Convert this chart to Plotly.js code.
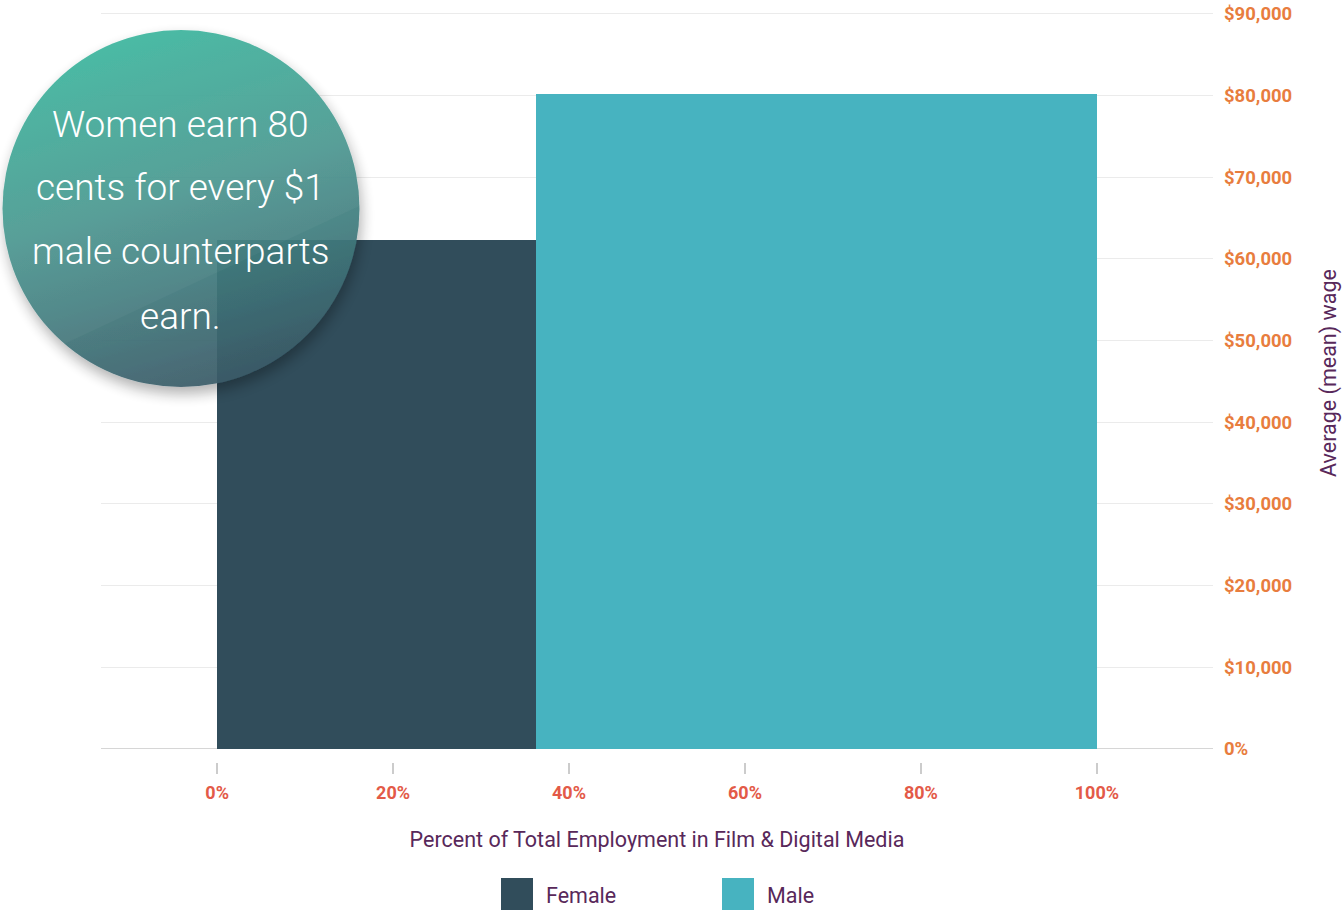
<!DOCTYPE html>
<html>
<head>
<meta charset="utf-8">
<script src="https://cdn.plot.ly/plotly-3.0.1.min.js"></script>
<style>
html,body{margin:0;padding:0;background:#fff;}
#chart{width:1343px;height:910px;}
</style>
</head>
<body>
<div id="chart"></div>
<script>
// ---- data ----
const seriesNames = ['Female', 'Male'];
const employmentShare = [36.3, 63.7];      // percent of total employment
const meanWage = [62300, 80200];          // average (mean) wage, USD
const seriesColors = ['#314d5b', '#47b3c0'];
const xTickVals = [0, 20, 40, 60, 80, 100];
const xTickText = ['0%', '20%', '40%', '60%', '80%', '100%'];
const yTickVals = [0, 10000, 20000, 30000, 40000, 50000, 60000, 70000, 80000, 90000];
const yTickText = ['0%', '$10,000', '$20,000', '$30,000', '$40,000', '$50,000', '$60,000', '$70,000', '$80,000', '$90,000'];
const calloutLines = ['Women earn 80', 'cents for every $1', 'male counterparts', 'earn.'];
const xTitle = 'Percent of Total Employment in Film & Digital Media';
const yTitle = 'Average (mean) wage';

// ---- layout helpers (pixel -> paper) ----
const L = 101, R = 1213, T = 12, B = 775;
const px = x => (x - L) / (R - L);
const py = y => (B - y) / (B - T);
const Y0PX = 749, Y90PX = 14, YMAX = 90200;
const yTopPx = Y0PX - YMAX * (Y0PX - Y90PX) / 90000;

// ---- traces ----
let start = 0;
const traces = seriesNames.map((name, i) => {
  const tr = {
    type: 'bar',
    name: name,
    x: [start],
    y: [meanWage[i]],
    width: [employmentShare[i]],
    offset: 0,
    marker: {color: seriesColors[i], line: {width: 0}},
    hoverinfo: 'name+y',
    showlegend: false
  };
  start += employmentShare[i];
  return tr;
});

// ---- callout bubble (SVG image) ----
const bubbleSvg =
`<svg xmlns="http://www.w3.org/2000/svg" width="400" height="420" viewBox="0 0 400 420">
<defs>
<linearGradient id="g" x1="0.35" y1="0" x2="0.65" y2="1">
<stop offset="0" stop-color="#37b59b"/>
<stop offset="0.45" stop-color="#45958e"/>
<stop offset="1" stop-color="#3a5866"/>
</linearGradient>
<filter id="s" x="-20%" y="-20%" width="140%" height="140%">
<feDropShadow dx="2" dy="7" stdDeviation="7" flood-color="#000" flood-opacity="0.33"/>
</filter>
<clipPath id="c"><circle cx="181" cy="198.5" r="178.5"/></clipPath>
</defs>
<circle cx="181" cy="198.5" r="178.5" fill="url(#g)" filter="url(#s)" opacity="0.93"/>
<polygon points="0,0 400,0 400,177 0,364" fill="#ffffff" opacity="0.035" clip-path="url(#c)"/>
</svg>`;
const bubbleSrc = 'data:image/svg+xml;charset=utf-8,' + encodeURIComponent(bubbleSvg);

const annotations = calloutLines.map((t, i) => ({
  text: t, xref: 'paper', yref: 'paper',
  x: px(180), y: py(124 + 64 * i),
  xanchor: 'center', yanchor: 'middle', showarrow: false,
  font: {family: 'Roboto, sans-serif', size: 37, weight: 300, color: '#ffffff'}
}));

// y-axis title
annotations.push({
  text: yTitle, xref: 'paper', yref: 'paper', textangle: -90,
  x: px(1329), y: py(373), xanchor: 'center', yanchor: 'middle', showarrow: false,
  font: {family: 'Roboto, sans-serif', size: 21.5, color: '#58285a'}
});

// ---- custom legend ----
const shapes = [{
  type: 'line', xref: 'paper', yref: 'y', x0: 0, x1: 1, y0: 0, y1: 0,
  line: {color: '#c9c9c9', width: 1.5}, layer: 'below'
}];
const legendX0 = 501, legendStep = 221, sw = 32;
seriesNames.forEach((name, i) => {
  const x0 = legendX0 + legendStep * i;
  shapes.push({
    type: 'rect', xref: 'paper', yref: 'paper',
    x0: px(x0), x1: px(x0 + sw), y0: py(910), y1: py(878),
    fillcolor: seriesColors[i], line: {width: 0}
  });
  annotations.push({
    text: name, xref: 'paper', yref: 'paper',
    x: px(x0 + sw + 11), y: py(895), xanchor: 'left', yanchor: 'middle', showarrow: false,
    font: {family: 'Roboto, sans-serif', size: 21.5, color: '#58285a'}
  });
});

const layout = {
  width: 1343, height: 910,
  margin: {l: L, r: 1343 - R, t: T, b: 910 - B, pad: 0},
  paper_bgcolor: '#ffffff', plot_bgcolor: '#ffffff',
  showlegend: false,
  bargap: 0,
  font: {family: 'Roboto, sans-serif', color: '#58285a'},
  xaxis: {
    range: [-13.2, 113.2],
    anchor: 'free', position: py(762),
    tickvals: xTickVals, ticktext: xTickText,
    ticks: 'outside', ticklen: 11, tickwidth: 1.5, tickcolor: '#cccccc',
    ticklabelstandoff: 3,
    showgrid: false, zeroline: false, showline: false,
    tickfont: {family: 'Roboto, sans-serif', size: 18, weight: 'bold', color: '#e35a48'},
    title: {text: xTitle, standoff: 30, font: {family: 'Roboto, sans-serif', size: 21.5, color: '#58285a'}},
    fixedrange: true
  },
  yaxis: {
    domain: [py(Y0PX), py(yTopPx)],
    range: [0, YMAX],
    side: 'right',
    tickvals: yTickVals, ticktext: yTickText,
    ticks: '', ticklabelstandoff: 10,
    showgrid: true, gridcolor: '#ebebeb', gridwidth: 1,
    zeroline: false, showline: false,
    tickfont: {family: 'Roboto, sans-serif', size: 18.5, weight: 'bold', color: '#e87d3e'},
    fixedrange: true
  },
  shapes: shapes,
  annotations: annotations,
  images: [{
    source: bubbleSrc, xref: 'paper', yref: 'paper',
    x: px(0), y: py(10), sizex: px(400) - px(0), sizey: py(10) - py(430),
    xanchor: 'left', yanchor: 'top', sizing: 'stretch', layer: 'above'
  }]
};

Plotly.newPlot('chart', traces, layout, {displayModeBar: false});
</script>
</body>
</html>
